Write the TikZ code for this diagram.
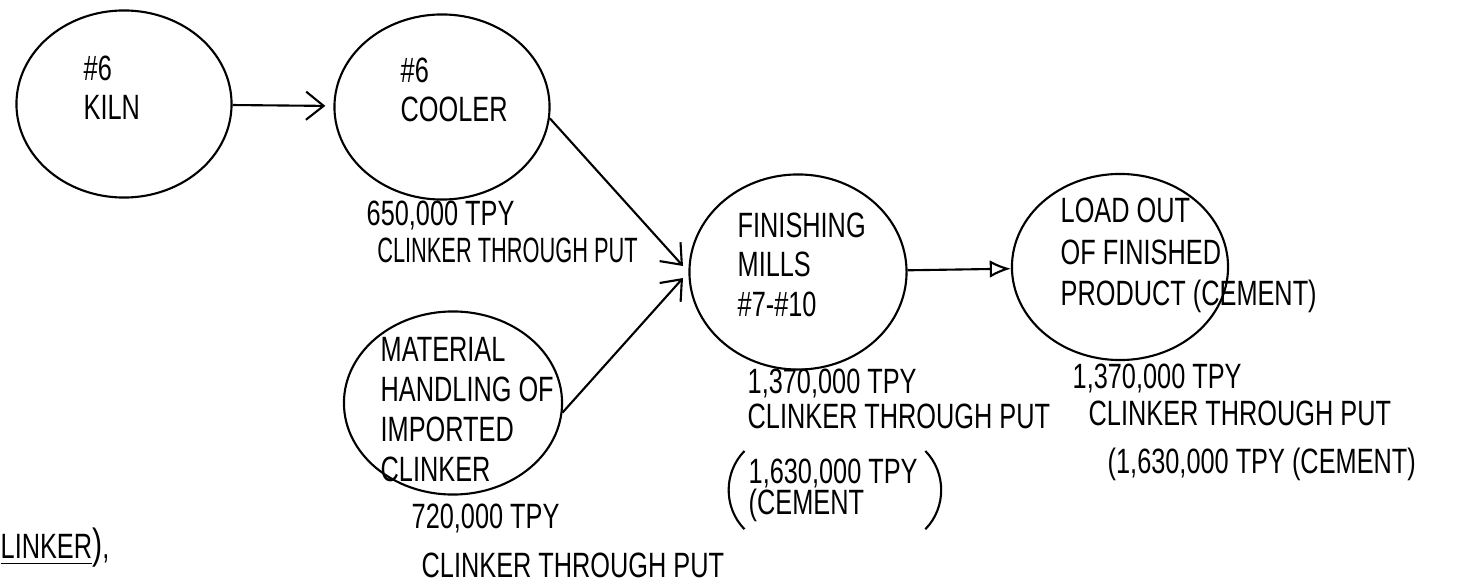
\documentclass[tikz,border=0pt]{standalone}
\usepackage{fontspec}
\setmainfont{Liberation Sans}[FakeStretch=0.72]
\newfontfamily\narrowhand{Liberation Sans}[FakeStretch=0.62]
\usetikzlibrary{shapes.geometric,arrows.meta}

\begin{document}
\begin{tikzpicture}[x=0.01cm,y=-0.01cm,font=\fontsize{10}{11.3}\selectfont,>={Straight Barb[length=5pt,width=8pt]}]
    \tikzset{
      unit/.style={ellipse,draw,line width=0.6pt,inner sep=0pt,
                   minimum width=2.16cm,minimum height=1.86cm},
      txt/.style={anchor=north west,align=left,inner sep=0pt},
      ar/.style={->,line width=0.6pt,shorten >=2.3pt}}
    \useasboundingbox (0,0) rectangle (1481,585);
    \node[unit,minimum width=2.15cm,minimum height=1.87cm] (kiln) at (124,104) {};
    \node[unit,minimum width=2.15cm,minimum height=1.85cm] (cooler) at (442,107) {};
    \node[unit,minimum width=2.17cm,minimum height=1.95cm] (mills) at (798,272) {};
    \node[unit] (load) at (1120,267) {};
    \node[unit,minimum width=2.18cm,minimum height=1.83cm] (matl) at (453,403) {};
    \node[txt] (kilnT) at (83,55) {\#6\\KILN};
    \node[txt] (coolT) at (400,57) {\#6\\COOLER};
    \node[txt] (coolQ) at (366,200) {650,000 TPY\\[-0.6pt]\hspace*{3pt}{\narrowhand CLINKER THROUGH PUT}};
    \node[txt] (millT) at (737,212) {FINISHING\\MILLS\\\#7-\#10};
    \node[txt] (millQ) at (747,368) {1,370,000 TPY\\[-1.2pt]CLINKER THROUGH PUT};
    \node[txt] (millC) at (748,458) {1,630,000 TPY\\[-2.5pt](CEMENT};
    \draw[line width=0.6pt] ([shift={(-1pt,2pt)}]millC.north west) .. controls ([shift={(-7pt,5pt)}]millC.west) and ([shift={(-7pt,-5pt)}]millC.west) .. ([shift={(-1pt,-2pt)}]millC.south west);
    \draw[line width=0.6pt] ([shift={(2pt,2pt)}]millC.north east) .. controls ([shift={(8pt,5pt)}]millC.east) and ([shift={(8pt,-5pt)}]millC.east) .. ([shift={(2pt,-2pt)}]millC.south east);
    \node[txt] (loadT) at (1060,197) {LOAD OUT\\[0.6pt]OF FINISHED\\[0.6pt]PRODUCT (CEMENT)};
    \node[txt] (loadQ) at (1072,363) {1,370,000 TPY};
    \node[txt] (loadC) at (1088,400) {CLINKER THROUGH PUT};
    \node[txt] (loadP) at (1107,447) {(1,630,000 TPY (CEMENT)};
    \node[txt] (matlT) at (380,337) {MATERIAL\\HANDLING OF\\IMPORTED\\CLINKER};
    \node[txt] (matlQ) at (411,503) {720,000 TPY};
    \node[txt] (matlC) at (421,552) {CLINKER THROUGH PUT};
    \node[txt] (clk) at (0,527) {\underline{LINKER}{\large)},};
    \draw[ar] (kiln) -- (cooler);
    \draw[ar] (cooler.-6) -- (mills.west);
    \draw[ar] (matl.-5) -- (mills.west);
    \draw[ar,shorten >=0pt,>={Latex[open,length=6pt,width=5pt]}] (mills) -- (load);
  \end{tikzpicture}
\end{document}
